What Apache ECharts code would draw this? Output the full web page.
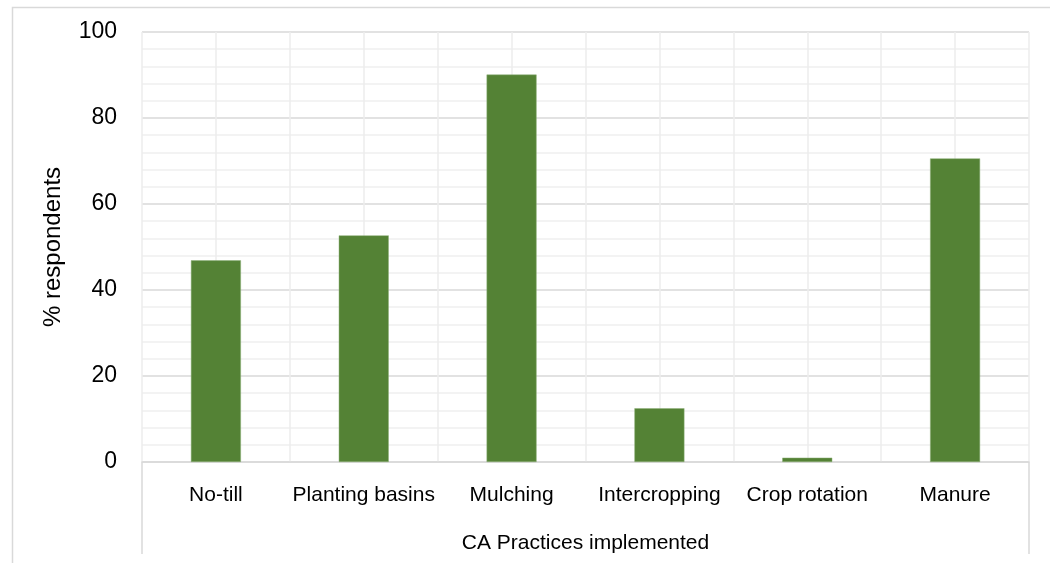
<!DOCTYPE html>
<html>
<head>
<meta charset="utf-8">
<script src="https://cdn.jsdelivr.net/npm/echarts@6/dist/echarts.min.js"></script>
<style>
    html, body { margin: 0; padding: 0; background: #fff; }
    #main { width: 1050px; height: 563px; }
</style>
</head>
<body>
<div id="main"></div>
<script>
// practices on the x axis
var practices = ['No-till', 'Planting basins', 'Mulching', 'Intercropping', 'Crop rotation', 'Manure'];
// % respondents
var respondents = [46.9, 52.7, 90.1, 12.5, 1.0, 70.6];
// outer level of the category axis
var groupLabel = ['CA Practices implemented'];

var font = 'Liberation Sans';

var myChart = echarts.init(document.getElementById('main'));
myChart.setOption({
    backgroundColor: '#fff',
    animation: false,
    graphic: [{
        // chart frame
        type: 'rect',
        left: 10, top: 5,
        shape: { width: 1100, height: 620 },
        style: { fill: 'none', stroke: '#d9d9d9', lineWidth: 1.5 },
        silent: true
    }],
    grid: { left: 142, right: 21, top: 32, bottom: 101 },
    xAxis: [{
        type: 'category',
        data: practices,
        position: 'bottom',
        axisLine: { show: false },
        axisTick: { show: false },
        splitLine: { show: false },
        axisLabel: { margin: 23, fontFamily: font, fontSize: 21, color: '#000', interval: 0 }
    }, {
        // half-category vertical gridlines
        type: 'value',
        position: 'top',
        min: 0, max: practices.length * 2, interval: 1,
        axisLine: { show: false },
        axisTick: { show: false },
        axisLabel: { show: false },
        splitLine: { show: true, lineStyle: { color: '#ececec', width: 1.5 } }
    }, {
        // outer level label with its box
        type: 'category',
        data: groupLabel,
        position: 'bottom',
        axisLine: { show: true, lineStyle: { color: '#d9d9d9', width: 1.5 } },
        axisTick: { show: true, length: 92, lineStyle: { color: '#d9d9d9', width: 1.5 } },
        splitLine: { show: false },
        axisLabel: { margin: 71, fontFamily: font, fontSize: 21, color: '#000' }
    }],
    yAxis: {
        type: 'value',
        min: 0, max: 100, interval: 20,
        name: '% respondents',
        nameLocation: 'middle',
        nameGap: 77,
        nameTextStyle: { fontFamily: font, fontSize: 24, color: '#000' },
        axisLine: { show: false },
        axisTick: { show: false },
        axisLabel: { margin: 25, fontFamily: font, fontSize: 23, color: '#000' },
        splitLine: { show: true, lineStyle: { color: '#d9d9d9', width: 1.5 } },
        minorTick: { show: false, splitNumber: 5 },
        minorSplitLine: { show: true, lineStyle: { color: '#f0f0f0', width: 1.5 } }
    },
    series: [{
        type: 'bar',
        xAxisIndex: 0,
        data: respondents,
        barWidth: 50,
        itemStyle: { color: '#548235', borderColor: '#8fb07a', borderWidth: 0.5 }
    }]
});
</script>
</body>
</html>
